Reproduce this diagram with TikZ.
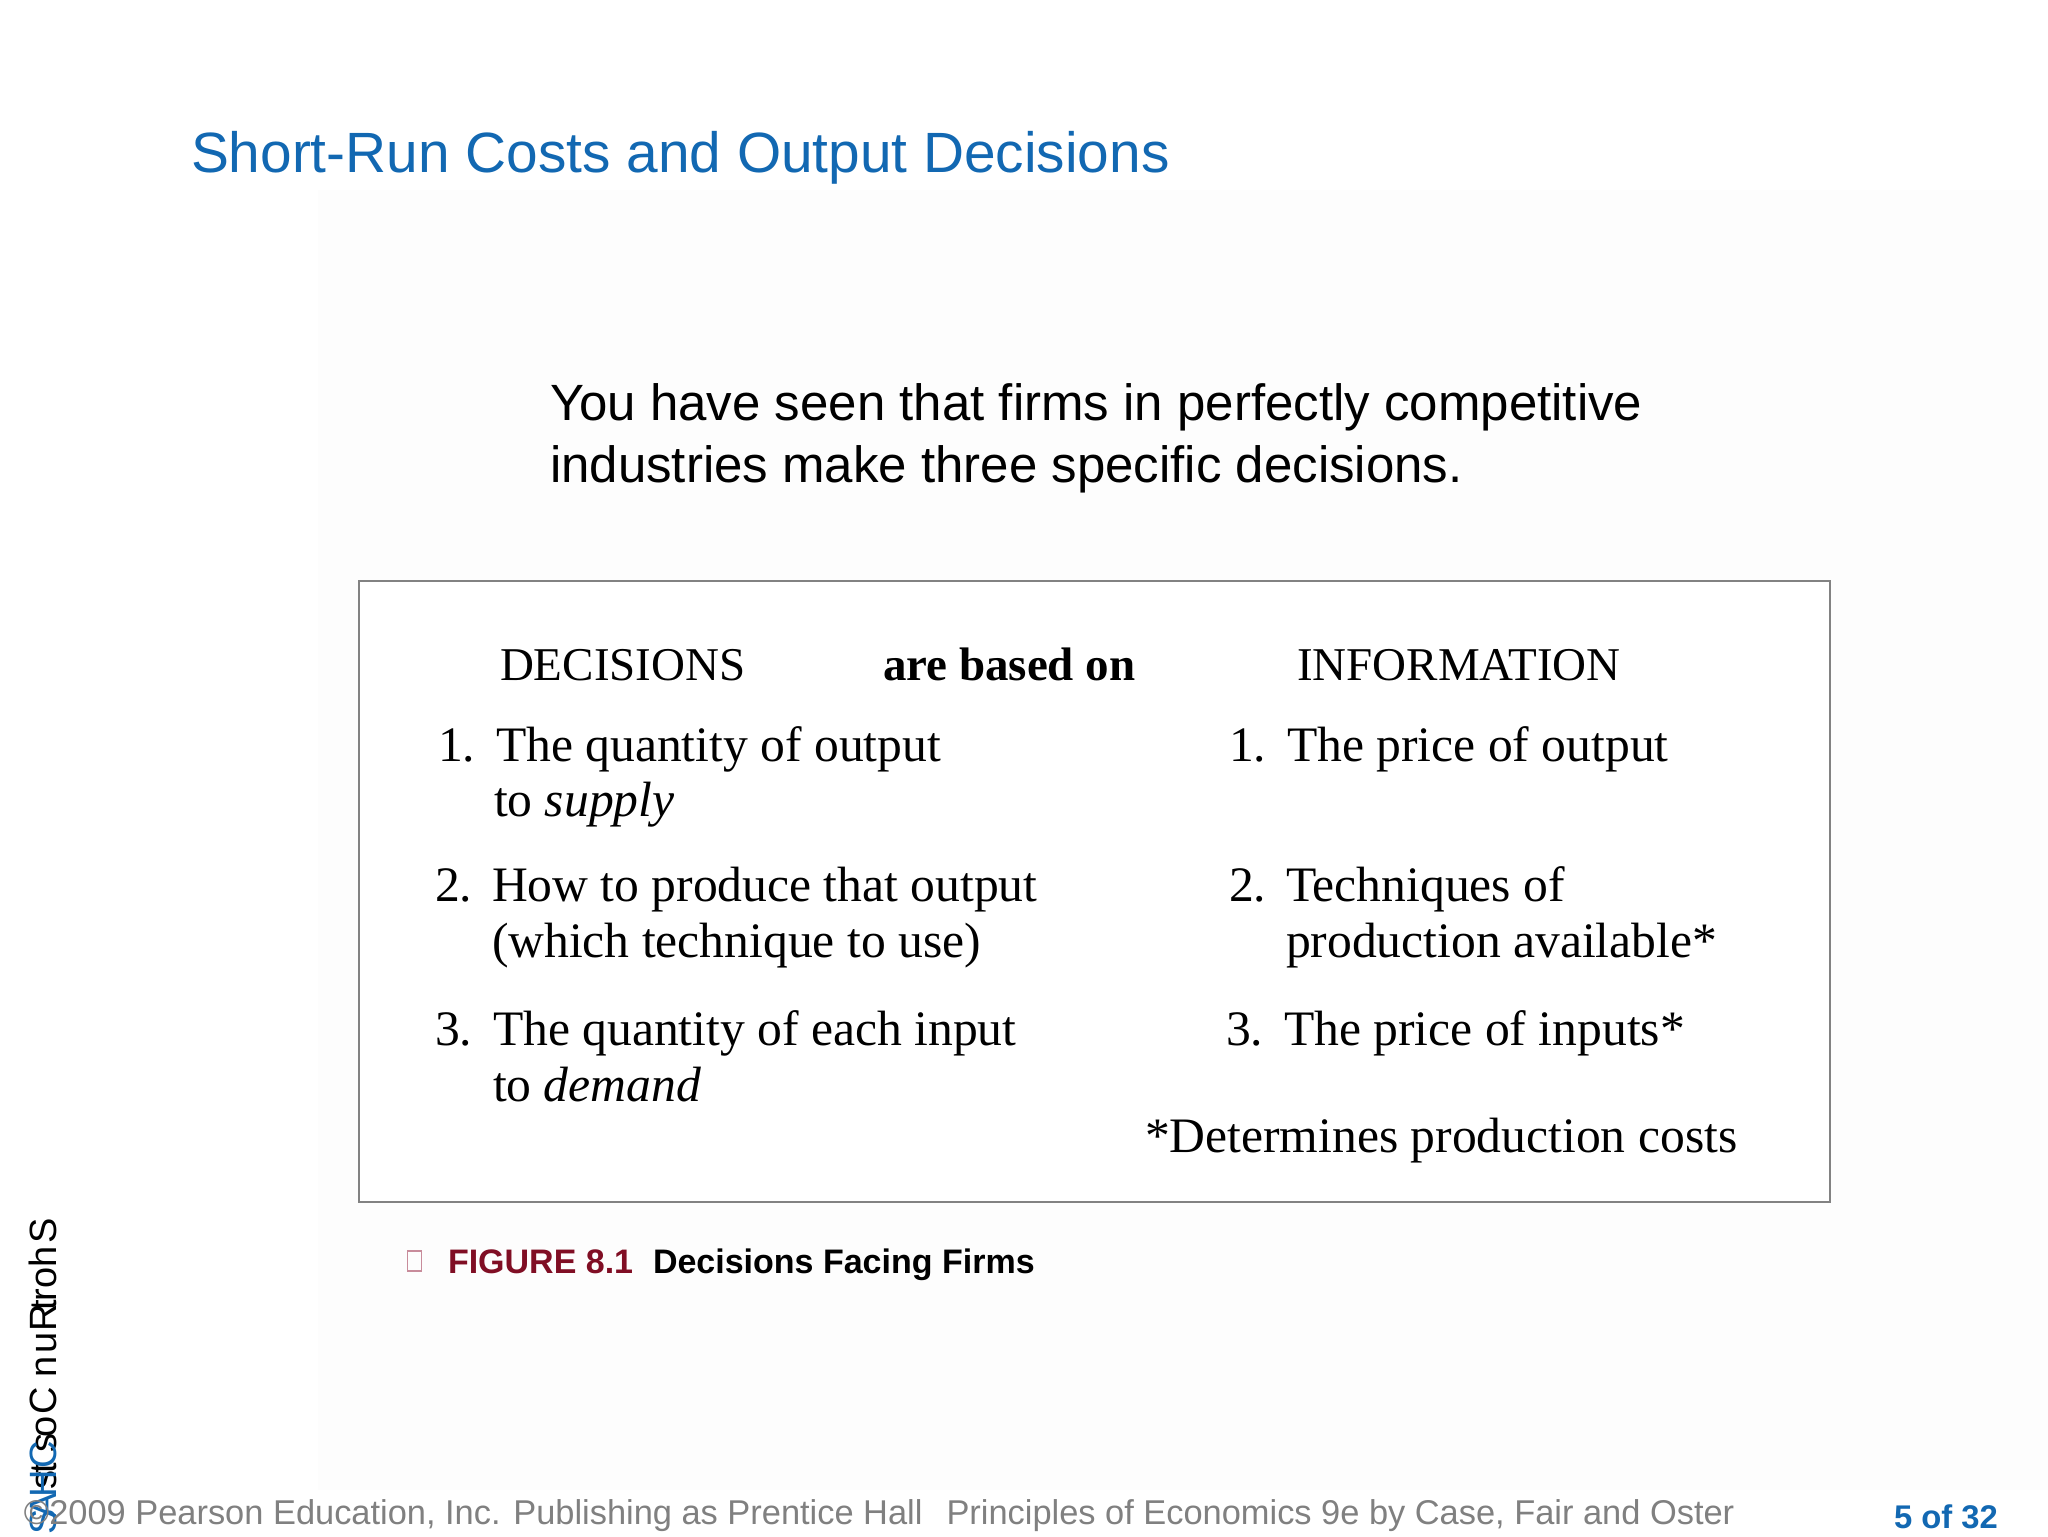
\documentclass[tikz,border=0pt]{standalone}
\usepackage{fontspec}
\setmainfont{Liberation Serif}
\newfontfamily\arialf{Liberation Sans}
\definecolor{titleblue}{RGB}{18,104,178}
\definecolor{figred}{RGB}{128,14,36}
\definecolor{footgray}{RGB}{128,128,128}
\definecolor{boxgray}{RGB}{130,130,130}
\definecolor{glyphpink}{RGB}{200,140,155}
\definecolor{faintbg}{RGB}{253,253,253}
\begin{document}
\begin{tikzpicture}[x=0.5pt,y=-0.5pt,
  every node/.style={inner sep=0pt,outer sep=0pt},
  titletext/.style={font=\arialf\fontsize{28.4}{34}\selectfont,text=titleblue,anchor=base west},
  bodytext/.style={font=\arialf\fontsize{25.5}{30}\selectfont,anchor=base west},
  hdrtext/.style={font=\fontsize{23.5}{28}\selectfont,anchor=base west},
  itemtext/.style={font=\fontsize{24.8}{29}\selectfont,anchor=base west},
  captext/.style={font=\arialf\bfseries\fontsize{17}{20}\selectfont,anchor=base west},
  foottext/.style={font=\arialf\fontsize{17.2}{20}\selectfont,text=footgray,anchor=base west},
  pagetext/.style={font=\arialf\bfseries\fontsize{16.4}{20}\selectfont,text=titleblue,anchor=base west},
  sideglyph/.style={font=\arialf\fontsize{19}{22}\selectfont,rotate=90,anchor=base},
  figframe/.style={draw=boxgray,line width=1pt}
]
\useasboundingbox (0,0) rectangle (2048,1536);
\fill[white] (0,0) rectangle (2048,1536);
\fill[faintbg] (318,190) rectangle (2048,1490);

% title
\node[titletext] (title) at (191,172) {Short-Run Costs and Output Decisions};

% body text
\node[bodytext] (body1) at (550,420) {You have seen that firms in perfectly competitive};
\node[bodytext] (body2) at (550,482) {industries make three specific decisions.};

% figure frame
\node[figframe,fill=white,minimum width=735.5pt,minimum height=310.5pt] (fig) at (1094.5,891.5) {};

% headers
\node[hdrtext] (hdec) at (500,680) {DECISIONS};
\node[hdrtext,font=\bfseries\fontsize{23.5}{28}\selectfont] (hbased) at (883,680) {are based on};
\node[hdrtext] (hinfo) at (1297,680) {INFORMATION};

% left column
\node[itemtext] (ln1) at (438,761) {1.};
\node[itemtext] (lt1a) at (496,761) {The quantity of output};
\node[itemtext] (lt1b) at (494,816) {to \textit{supply}};
\node[itemtext] (ln2) at (435,901) {2.};
\node[itemtext] (lt2a) at (492,901) {How to produce that output};
\node[itemtext] (lt2b) at (492,957) {(which technique to use)};
\node[itemtext] (ln3) at (435,1045) {3.};
\node[itemtext] (lt3a) at (493,1045) {The quantity of each input};
\node[itemtext] (lt3b) at (493,1101) {to \textit{demand}};

% right column
\node[itemtext] (rn1) at (1229,761) {1.};
\node[itemtext] (rt1) at (1287,761) {The price of output};
\node[itemtext] (rn2) at (1229,901) {2.};
\node[itemtext] (rt2a) at (1286,901) {Techniques of};
\node[itemtext] (rt2b) at (1286,957) {production available*};
\node[itemtext] (rn3) at (1226,1045) {3.};
\node[itemtext] (rt3) at (1284,1045) {The price of inputs*};
\node[itemtext] (rnote) at (1145,1152) {*Determines production costs};

% caption
\node[draw=glyphpink,line width=0.6pt,minimum width=7pt,minimum height=10pt] (capbox) at (414.5,1261) {};
\node[captext,text=figred] (capnum) at (448,1273) {FIGURE 8.1};
\node[captext] (captitle) at (653,1273) {Decisions Facing Firms};

% garbled rotated side text
\foreach \ch/\yy [count=\i] in {S/1231,h/1257,o/1278,r/1295,t/1305,R/1318,u/1343,n/1367,C/1401,o/1427,s/1443,t/1468,s/1480}
  \node[sideglyph] (sg\i) at (56,\yy) {\ch};
\foreach \ch/\yy [count=\i] in {C/1455,H/1484,A/1506,S/1522}
  \node[sideglyph,text=titleblue] (sb\i) at (56,\yy) {\ch};

% footer
\node[foottext] (foot) at (24,1524) {\textcopyright2009 Pearson Education, Inc. Publishing as Prentice Hall\hspace{0.7em}Principles of Economics 9e by Case, Fair and Oster};
\node[pagetext] (page) at (1894,1528) {5 of 32};
\end{tikzpicture}
\end{document}
